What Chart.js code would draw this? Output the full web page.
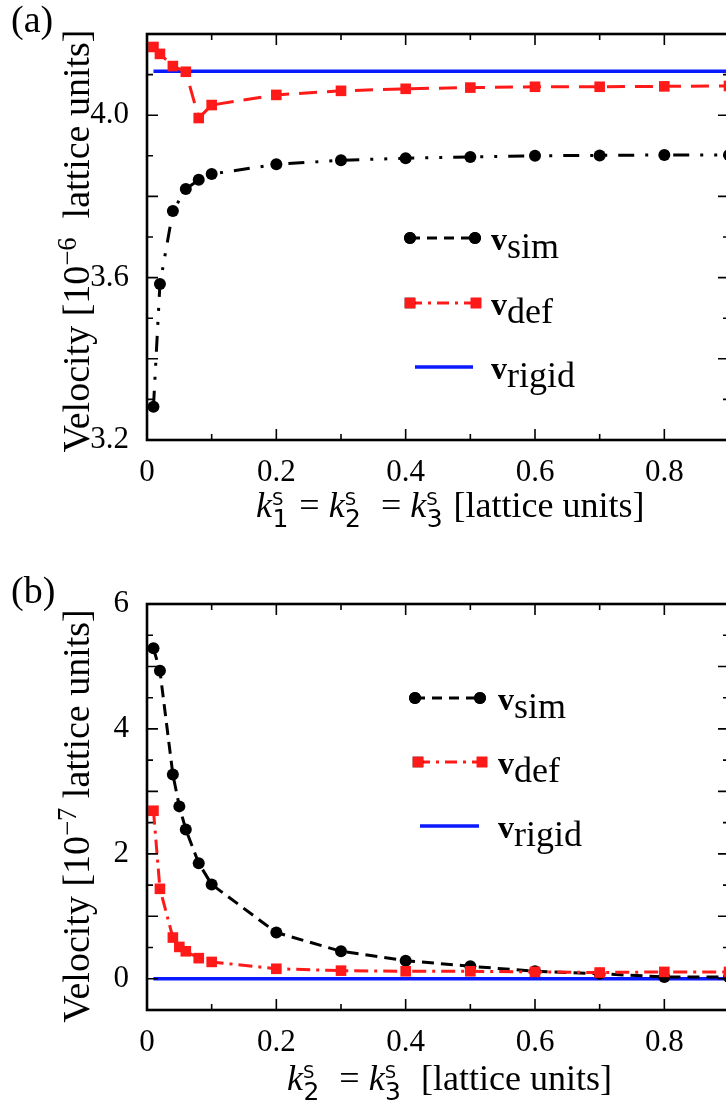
<!DOCTYPE html>
<html>
<head>
<meta charset="utf-8">
<script src="https://cdn.jsdelivr.net/npm/chart.js@4.4.1/dist/chart.umd.min.js"></script>
<style>
    html, body { margin: 0; padding: 0; background: #fff; }
    #page {
        position: relative; width: 726px; height: 1105px; overflow: hidden;
        font-family: "Liberation Serif", "Times New Roman", serif; color: #000;
    }
    canvas { position: absolute; left: 0; }
    .txt { position: absolute; white-space: nowrap; line-height: 1; }
    .panel { font-size: 38px; }
    .ytitle {
        width: 520px; height: 40px; line-height: 40px; text-align: center;
        font-size: 38px; transform: rotate(-90deg);
    }
    .ytitle sup { font-size: 0.7em; vertical-align: 0.5em; line-height: 0; }
    .xtitle { font-size: 36px; }
    .xtitle i { font-style: italic; }
    .xtitle .s { font-family: "DejaVu Sans", sans-serif; font-size: 18px; vertical-align: 12px; line-height: 0; }
    .xtitle .d { font-family: "DejaVu Sans", sans-serif; font-size: 25px; vertical-align: -10px; line-height: 0; margin-left: -11px; margin-right: 2px; }
    .leg b { font-size: 32px; }
    .leg span { font-size: 36px; position: relative; top: 8px; }
</style>
</head>
<body>
<div id="page">
    <canvas id="chartA" width="760" height="540" style="top:0"></canvas>
    <canvas id="chartB" width="760" height="545" style="top:560px"></canvas>

    <div class="txt panel" style="left:11px; top:0px">(a)</div>
    <div class="txt panel" style="left:11px; top:571px">(b)</div>

    <div class="txt ytitle" style="left:-184px; top:221px">Velocity [10<sup>−6</sup>&nbsp; lattice units]</div>
    <div class="txt ytitle" style="left:-184px; top:796px">Velocity [10<sup>−7</sup>&nbsp;lattice units]</div>

    <div class="txt xtitle" style="left:256px; top:487px"><i>k</i><span class="s">S</span><span class="d">1</span> = <i>k</i><span class="s">S</span><span class="d">2</span>&nbsp; = <i>k</i><span class="s">S</span><span class="d">3</span> [lattice units]</div>
    <div class="txt xtitle" style="left:287px; top:1060px"><i>k</i><span class="s">S</span><span class="d">2</span>&nbsp; = <i>k</i><span class="s">S</span><span class="d">3</span>&nbsp; [lattice units]</div>

    <div class="txt leg" style="left:491px; top:220px"><b>v</b><span>sim</span></div>
    <div class="txt leg" style="left:491px; top:285px"><b>v</b><span>def</span></div>
    <div class="txt leg" style="left:491px; top:349px"><b>v</b><span>rigid</span></div>

    <div class="txt leg" style="left:498px; top:680px"><b>v</b><span>sim</span></div>
    <div class="txt leg" style="left:498px; top:744px"><b>v</b><span>def</span></div>
    <div class="txt leg" style="left:498px; top:808px"><b>v</b><span>rigid</span></div>
</div>

<script>
// Панель (a): k1 = k2 = k3
const xA = [0.01, 0.02, 0.04, 0.06, 0.08, 0.1, 0.2, 0.3, 0.4, 0.5, 0.6, 0.7, 0.8, 0.9];
const simA = [3.282, 3.584, 3.764, 3.818, 3.841, 3.855, 3.879, 3.889, 3.894, 3.897, 3.900, 3.901, 3.902, 3.902];
const defA = [4.168, 4.151, 4.121, 4.107, 3.993, 4.025, 4.050, 4.060, 4.065, 4.068, 4.070, 4.070, 4.071, 4.072];
const rigidA = [4.108, 4.108, 4.108, 4.108, 4.108, 4.108, 4.108, 4.108, 4.108, 4.108, 4.108, 4.108, 4.108, 4.108];

// Панель (b): k2 = k3
const xB = [0.01, 0.02, 0.04, 0.05, 0.06, 0.08, 0.1, 0.2, 0.3, 0.4, 0.5, 0.6, 0.7, 0.8, 0.9];
const simB = [5.29, 4.93, 3.27, 2.76, 2.39, 1.85, 1.51, 0.74, 0.44, 0.29, 0.20, 0.12, 0.08, 0.03, 0.03];
const defB = [2.69, 1.44, 0.66, 0.51, 0.44, 0.33, 0.27, 0.16, 0.13, 0.12, 0.12, 0.11, 0.10, 0.11, 0.11];
const rigidB = [0, 0, 0, 0, 0, 0, 0, 0, 0, 0, 0, 0, 0, 0, 0];

// Деления осей
const xTicks = [0, 0.1, 0.2, 0.3, 0.4, 0.5, 0.6, 0.7, 0.8, 0.9];
const xMajor = [0, 0.2, 0.4, 0.6, 0.8];
const xLabels = [0, 0.2, 0.4, 0.6, 0.8];

const yTicksA = [3.2, 3.3, 3.4, 3.5, 3.6, 3.7, 3.8, 3.9, 4.0, 4.1, 4.2];
const yMajorA = [3.2, 3.4, 3.6, 3.8, 4.0, 4.2];
const yLabelsA = [3.2, 3.6, 4.0];

const yTicksB = [-0.5, 0, 0.5, 1, 1.5, 2, 2.5, 3, 3.5, 4, 4.5, 5, 5.5, 6];
const yMajorB = [0, 1, 2, 3, 4, 5, 6];
const yLabelsB = [0, 2, 4, 6];

const FONT = '"Liberation Serif", "Times New Roman", serif';

function has(list, v) {
    return list.some(t => Math.abs(t - v) < 1e-6);
}

// Рамка и внутренние деления на всех четырех сторонах
const frameTicks = {
    id: 'frameTicks',
    afterDraw(chart, args, opts) {
        const { ctx, chartArea: a, scales: { x, y } } = chart;
        ctx.save();
        ctx.strokeStyle = '#000';
        ctx.lineWidth = 1.6;
        ctx.beginPath();
        opts.xTicks.forEach(v => {
            const px = x.getPixelForValue(v);
            const len = has(opts.xMajor, v) ? 11 : 6;
            ctx.moveTo(px, a.bottom); ctx.lineTo(px, a.bottom - len);
            ctx.moveTo(px, a.top); ctx.lineTo(px, a.top + len);
        });
        opts.yTicks.forEach(v => {
            const py = y.getPixelForValue(v);
            const len = has(opts.yMajor, v) ? 11 : 6;
            ctx.moveTo(a.left, py); ctx.lineTo(a.left + len, py);
            ctx.moveTo(a.right, py); ctx.lineTo(a.right - len, py);
        });
        ctx.stroke();
        ctx.lineWidth = 2.6;
        ctx.strokeRect(a.left, a.top, a.right - a.left, a.bottom - a.top);
        ctx.restore();
    }
};

// Образцы линий легенды (подписи - в HTML)
const legendSamples = {
    id: 'legendSamples',
    afterDraw(chart, args, opts) {
        const ctx = chart.ctx;
        opts.rows.forEach(row => {
            const ds = chart.data.datasets[row.index];
            ctx.save();
            ctx.strokeStyle = ds.borderColor;
            ctx.lineWidth = ds.borderWidth;
            ctx.setLineDash(row.dash);
            ctx.beginPath();
            ctx.moveTo(row.x1, row.y);
            ctx.lineTo(row.x2, row.y);
            ctx.stroke();
            ctx.setLineDash([]);
            if (ds.pointRadius > 0) {
                [row.x1, row.x2].forEach(px => {
                    Chart.helpers.drawPoint(ctx, {
                        pointStyle: ds.pointStyle, radius: ds.pointRadius,
                        borderWidth: 0, rotation: 0
                    }, px, row.y);
                    ctx.fillStyle = ds.pointBackgroundColor;
                    ctx.fill();
                });
            }
            ctx.restore();
        });
    }
};

function points(xs, ys) {
    return xs.map((v, i) => ({ x: v, y: ys[i] }));
}

function makeChart(id, cfg) {
    const canvas = document.getElementById(id);
    return new Chart(canvas, {
        type: 'line',
        data: {
            datasets: [
                {
                    label: 'v_sim',
                    data: points(cfg.xs, cfg.sim),
                    borderColor: '#000',
                    backgroundColor: '#000',
                    pointBackgroundColor: '#000',
                    borderWidth: 3,
                    borderDash: cfg.simDash,
                    pointStyle: 'circle',
                    pointRadius: 6,
                    pointBorderWidth: 0,
                    order: 1
                },
                {
                    label: 'v_def',
                    data: points(cfg.xs, cfg.def),
                    borderColor: '#ff1a1a',
                    backgroundColor: '#ff1a1a',
                    pointBackgroundColor: '#ff1a1a',
                    borderWidth: 3,
                    borderDash: cfg.defDash,
                    pointStyle: 'rect',
                    pointRadius: 7.5,
                    pointBorderWidth: 0,
                    order: 0
                },
                {
                    label: 'v_rigid',
                    data: points(cfg.xs, cfg.rigid),
                    borderColor: '#0a1aff',
                    borderWidth: 3.5,
                    pointRadius: 0,
                    order: 2
                }
            ]
        },
        options: {
            responsive: false,
            animation: false,
            devicePixelRatio: 1,
            layout: { padding: { left: 0, top: cfg.top, right: canvas.width - 729, bottom: 0 } },
            plugins: {
                legend: { display: false },
                tooltip: { enabled: false },
                frameTicks: { xTicks: xTicks, xMajor: xMajor, yTicks: cfg.yTicks, yMajor: cfg.yMajor },
                legendSamples: { rows: cfg.legend }
            },
            scales: {
                x: {
                    type: 'linear',
                    min: 0, max: 0.9,
                    grid: { display: false },
                    border: { display: false },
                    afterBuildTicks: s => { s.ticks = xTicks.map(v => ({ value: v })); },
                    afterFit: s => { s.height = canvas.height - cfg.bottom; },
                    ticks: {
                        autoSkip: false, maxRotation: 0, padding: 6, color: '#000',
                        font: { family: FONT, size: 31 },
                        callback: v => has(xLabels, v) ? String(Math.round(v * 10) / 10) : ''
                    }
                },
                y: {
                    min: cfg.yMin, max: cfg.yMax,
                    grid: { display: false },
                    border: { display: false },
                    afterBuildTicks: s => { s.ticks = cfg.yTicks.map(v => ({ value: v })); },
                    afterFit: s => { s.width = 147; },
                    ticks: {
                        autoSkip: false, padding: 10, color: '#000',
                        font: { family: FONT, size: 31 },
                        callback: v => has(cfg.yLabels, v) ? cfg.fmt(v) : ''
                    }
                }
            }
        },
        plugins: [frameTicks, legendSamples]
    });
}

document.addEventListener('DOMContentLoaded', function() {
    makeChart('chartA', {
        xs: xA, sim: simA, def: defA, rigid: rigidA,
        simDash: [16, 11, 3, 11, 3, 11],
        defDash: [18, 10],
        yMin: 3.2, yMax: 4.2,
        yTicks: yTicksA, yMajor: yMajorA, yLabels: yLabelsA,
        fmt: v => v.toFixed(1),
        top: 34, bottom: 440,
        legend: [
            { index: 0, y: 238, x1: 410, x2: 475, dash: [10, 7] },
            { index: 1, y: 303, x1: 410, x2: 476, dash: [12, 6, 3, 6] },
            { index: 2, y: 367, x1: 415, x2: 473, dash: [] }
        ]
    });

    makeChart('chartB', {
        xs: xB, sim: simB, def: defB, rigid: rigidB,
        simDash: [12, 7],
        defDash: [14, 6, 3, 6],
        yMin: -0.5, yMax: 6,
        yTicks: yTicksB, yMajor: yMajorB, yLabels: yLabelsB,
        fmt: v => String(v),
        top: 44, bottom: 450,
        legend: [
            { index: 0, y: 138, x1: 415, x2: 480, dash: [10, 7] },
            { index: 1, y: 202, x1: 418, x2: 482, dash: [12, 6, 3, 6] },
            { index: 2, y: 266, x1: 420, x2: 479, dash: [] }
        ]
    });
});
</script>
</body>
</html>
